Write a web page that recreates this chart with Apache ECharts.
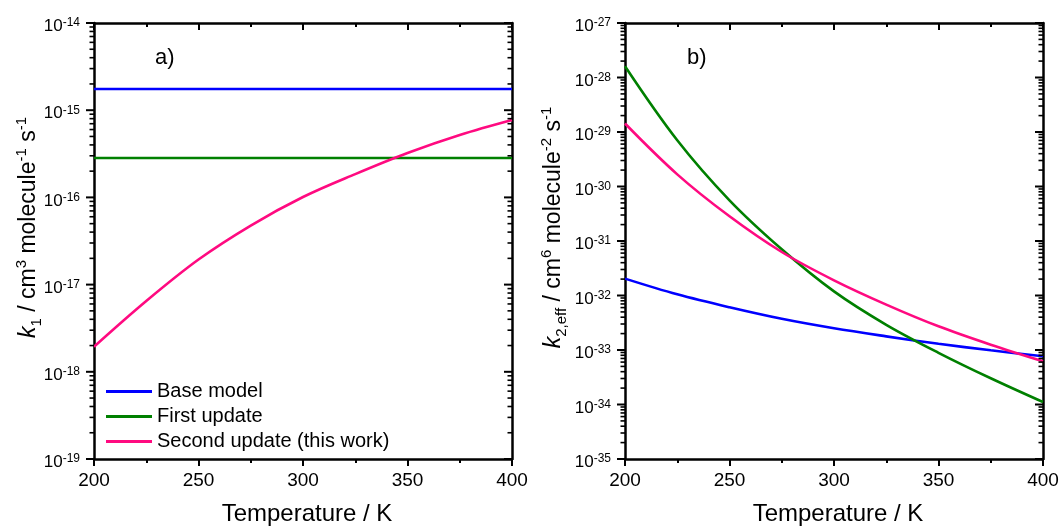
<!DOCTYPE html>
<html><head><meta charset="utf-8">
<script src="https://cdn.jsdelivr.net/npm/echarts@6/dist/echarts.min.js"></script>
<style>html,body{margin:0;padding:0;background:#fff}#c{width:1061px;height:527px}</style>
</head><body><div id="c"></div>
<script>
// ---- data ----
const temperatures = [200, 225, 250, 275, 300, 325, 350, 375, 400];
const seriesNames = ['Base model', 'First update', 'Second update (this work)'];
// panel a: k1 / cm3 molecule-1 s-1
const k1Base   = [1.75e-15, 1.75e-15, 1.75e-15, 1.75e-15, 1.75e-15, 1.75e-15, 1.75e-15, 1.75e-15, 1.75e-15];
const k1First  = [2.83e-16, 2.83e-16, 2.83e-16, 2.83e-16, 2.83e-16, 2.83e-16, 2.83e-16, 2.83e-16, 2.83e-16];
const k1Second = [1.94e-18, 6.49e-18, 1.94e-17, 4.76e-17, 1.01e-16, 1.85e-16, 3.23e-16, 5.2e-16, 7.72e-16];
// panel b: k2,eff / cm6 molecule-2 s-1
const k2Base   = [2.04e-32, 1.05e-32, 6.07e-33, 3.73e-33, 2.50e-33, 1.78e-33, 1.30e-33, 9.87e-34, 7.66e-34];
const k2First  = [1.61e-28, 7.05e-30, 5.58e-31, 7.05e-32, 1.19e-32, 2.90e-33, 8.89e-34, 3.03e-34, 1.11e-34];
const k2Second = [1.43e-29, 1.67e-30, 2.84e-31, 6.28e-32, 1.90e-32, 6.81e-33, 2.72e-33, 1.25e-33, 6.21e-34];
// axes / tick labels
const tempMin = 200, tempMax = 400, tempStep = 50;
const k1Decades = [1e-19, 1e-18, 1e-17, 1e-16, 1e-15, 1e-14];
const k2Decades = [1e-35, 1e-34, 1e-33, 1e-32, 1e-31, 1e-30, 1e-29, 1e-28, 1e-27];
const minorMultipliers = [2, 3, 4, 5, 6, 7, 8, 9];
const panelLabels = ['a)', 'b)'];
const xTitle = 'Temperature / K';

const colors = ['#0000ff', '#008000', '#ff0a80'];
const FONT = '"Liberation Sans", Arial, Helvetica, sans-serif';

const chart = echarts.init(document.getElementById('c'), null, {renderer: 'canvas'});

function pairs(vals) { return temperatures.map((t, i) => [t, vals[i]]); }

const tickLabelRich = {
  b: {fontSize: 17, fontFamily: FONT, fill: '#000', lineHeight: 18, verticalAlign: 'bottom'},
  s: {fontSize: 12, fontFamily: FONT, fill: '#000', lineHeight: 12, verticalAlign: 'top'}
};
const TS = 23;
const titleRich = {
  i: {fontSize: TS, fontFamily: FONT, fontStyle: 'italic', color: '#000', lineHeight: 30},
  t: {fontSize: TS, fontFamily: FONT, color: '#000', lineHeight: 30},
  sub: {fontSize: 15, fontFamily: FONT, color: '#000', lineHeight: 15, verticalAlign: 'bottom'},
  sup: {fontSize: 15, fontFamily: FONT, color: '#000', lineHeight: 15, verticalAlign: 'top'}
};
const axLine = {show: true, onZero: false, lineStyle: {color: '#000', width: 2.5}};

function xAxes(grid) {
  return [{
    type: 'value', gridIndex: grid, position: 'bottom', min: tempMin, max: tempMax, interval: tempStep,
    axisLine: axLine,
    axisTick: {show: true, length: 7, lineStyle: {color: '#000', width: 2}},
    minorTick: {show: true, splitNumber: 2, length: 4, lineStyle: {color: '#000', width: 2}},
    splitLine: {show: false},
    axisLabel: {fontSize: 19, fontFamily: FONT, color: '#000', margin: 12},
    name: xTitle, nameLocation: 'middle', nameGap: 43, nameMoveOverlap: false,
    nameTextStyle: {fontSize: 24, fontFamily: FONT, color: '#000', padding: [0, 0, 0, 8]}
  }, {
    type: 'value', gridIndex: grid, position: 'top', min: tempMin, max: tempMax, interval: tempStep,
    axisLine: axLine,
    axisTick: {show: true, inside: true, length: 7, lineStyle: {color: '#000', width: 2}},
    minorTick: {show: true, splitNumber: 2, length: 4, lineStyle: {color: '#000', width: 2}},
    splitLine: {show: false}, axisLabel: {show: false}
  }];
}
function yAxes(grid, decades, name, gap) {
  const mn = decades[0], mx = decades[decades.length - 1];
  return [{
    type: 'log', logBase: 10, gridIndex: grid, position: 'left', min: mn, max: mx,
    axisLine: axLine, axisTick: {show: false}, splitLine: {show: false}, axisLabel: {show: false},
    name: name, nameLocation: 'middle', nameRotate: 90, nameGap: gap, nameMoveOverlap: false,
    nameTextStyle: {rich: titleRich, padding: [0, 0, 0, 27]}
  }, {
    type: 'log', logBase: 10, gridIndex: grid, position: 'right', min: mn, max: mx,
    axisLine: axLine, axisTick: {show: false}, splitLine: {show: false}, axisLabel: {show: false}
  }];
}

const k1Title = '{i|k}{sub|1}{t| / cm}{sup|3}{t| molecule}{sup|-1}{t| s}{sup|-1}';
const k2Title = '{i|k}{sub|2,eff}{t| / cm}{sup|6}{t| molecule}{sup|-2}{t| s}{sup|-1}';

const series = [];
[[k1Base, k1First, k1Second], [k2Base, k2First, k2Second]].forEach((set, p) => {
  set.forEach((vals, i) => {
    series.push({
      type: 'line', name: seriesNames[i], xAxisIndex: p * 2, yAxisIndex: p * 2,
      data: pairs(vals), smooth: 0.35, showSymbol: false, symbol: 'none',
      lineStyle: {color: colors[i], width: 2.6}, itemStyle: {color: colors[i]},
      z: 1, animation: false
    });
  });
});

chart.setOption({
  animation: false,
  backgroundColor: '#fff',
  grid: [
    {left: 94, top: 23, width: 418, height: 436, containLabel: false, outerBoundsMode: 'none'},
    {left: 625, top: 23, width: 418, height: 436, containLabel: false, outerBoundsMode: 'none'}
  ],
  xAxis: [...xAxes(0), ...xAxes(1)],
  yAxis: [...yAxes(0, k1Decades, k1Title, 50), ...yAxes(1, k2Decades, k2Title, 56)],
  title: [
    {text: panelLabels[0], left: 155, top: 47, padding: 0, textStyle: {fontSize: 22, fontWeight: 'normal', fontFamily: FONT, color: '#000'}},
    {text: panelLabels[1], left: 687, top: 47, padding: 0, textStyle: {fontSize: 22, fontWeight: 'normal', fontFamily: FONT, color: '#000'}}
  ],
  legend: {
    data: seriesNames, orient: 'vertical', left: 106, top: 379, padding: 0,
    icon: 'rect', itemWidth: 46, itemHeight: 3, itemGap: 0,
    textStyle: {fontSize: 20, fontFamily: FONT, color: '#000', lineHeight: 25},
    selectedMode: false
  },
  series: series
});

// log-axis ticks and labels (decades + 2..9 minors), placed through the axis scales
function addLogTicks() {
  const g = [];
  const specs = [{x: 0, y: 0, dec: k1Decades}, {x: 2, y: 2, dec: k2Decades}];
  const tick = (x1, x2, y, w) => ({type: 'line', silent: true, z: 10,
    shape: {x1: x1, y1: y, x2: x2, y2: y}, style: {stroke: '#000', lineWidth: w}});
  specs.forEach(s => {
    const xl = chart.convertToPixel({xAxisIndex: s.x}, tempMin);
    const xr = chart.convertToPixel({xAxisIndex: s.x}, tempMax);
    s.dec.forEach((v, d) => {
      const y = chart.convertToPixel({yAxisIndex: s.y}, v);
      g.push(tick(xl - 8, xl, y, 2));
      g.push(tick(xr, xr - 8, y, 2));
      const e = Math.round(Math.log10(v));
      g.push({type: 'text', silent: true, z: 10, x: xl - 14, y: y + 3,
        style: {text: '{b|10}{s|' + e + '}', rich: tickLabelRich, align: 'right', verticalAlign: 'middle', fill: '#000'}});
      if (d < s.dec.length - 1) {
        minorMultipliers.forEach(m => {
          const ym = chart.convertToPixel({yAxisIndex: s.y}, m * v);
          g.push(tick(xl - 4.5, xl, ym, 1.6));
          g.push(tick(xr, xr - 4.5, ym, 1.6));
        });
      }
    });
  });
  chart.setOption({graphic: g});
}
addLogTicks();
</script>
</body></html>
